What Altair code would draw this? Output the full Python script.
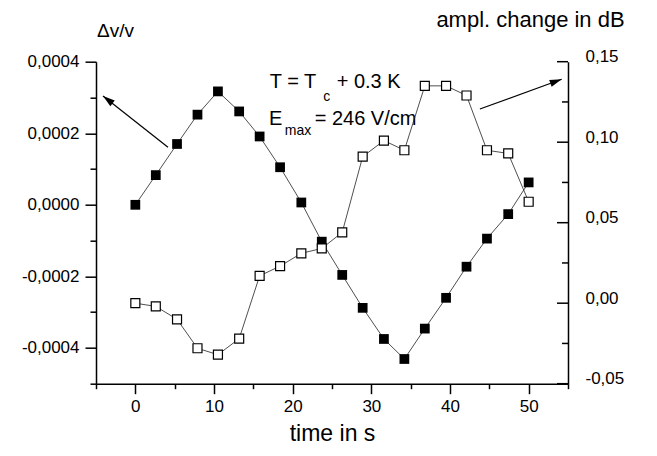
import altair as alt
import pandas as pd

# ---- data ----
time_s = [0.0, 2.6, 5.3, 7.9, 10.5, 13.2, 15.8, 18.4, 21.1, 23.7,
          26.3, 28.9, 31.6, 34.2, 36.8, 39.5, 42.1, 44.7, 47.4, 50.0]
dv_v = [0.0000, 0.000083, 0.000170, 0.000252, 0.000317, 0.000261, 0.000191,
        0.000105, 0.0000065, -0.000103, -0.000196, -0.000288, -0.000375,
        -0.000431, -0.000346, -0.000260, -0.000173, -0.0000945, -0.000026,
        0.0000626]
ampl_db = [0.000, -0.002, -0.010, -0.028, -0.032, -0.022, 0.017, 0.023,
           0.031, 0.034, 0.044, 0.091, 0.101, 0.095, 0.135, 0.135, 0.129,
           0.095, 0.093, 0.063]

# axis ticks
x_ticks = [-5, 0, 5, 10, 15, 20, 25, 30, 35, 40, 45, 50, 55]
left_ticks = [-0.0005, -0.0004, -0.0003, -0.0002, -0.0001, 0.0, 0.0001,
              0.0002, 0.0003, 0.0004]
right_major = [-0.05, 0.0, 0.05, 0.10, 0.15]
right_minor = [-0.025, 0.025, 0.075, 0.125]

# annotations (data units)
ann_main_text = ["T = T", "+ 0.3 K", "E", "= 246 V/cm"]
ann_main_x = [17.1, 25.6, 17.0, 22.8]
ann_main_y = [0.000326, 0.000326, 0.000223, 0.000223]
ann_sub_text = ["c", "max"]
ann_sub_x = [23.9, 19.0]
ann_sub_y = [0.000290, 0.000194]

# arrows: tail -> tip
arrow_l = dict(x=[4.15], y=[0.000161], x2=[-4.11], y2=[0.000304])
arrow_r = dict(x=[43.8], y=[0.1206], x2=[54.2], y2=[0.1391])

FONT = "Liberation Sans"

df_l = pd.DataFrame({"t": time_s, "v": dv_v})
df_r = pd.DataFrame({"t": time_s, "a": ampl_db})
df_main = pd.DataFrame({"t": ann_main_x, "v": ann_main_y, "txt": ann_main_text})
df_sub = pd.DataFrame({"t": ann_sub_x, "v": ann_sub_y, "txt": ann_sub_text})
df_al = pd.DataFrame(arrow_l)
df_ar = pd.DataFrame(arrow_r)
df_rt = pd.DataFrame({"a": right_major + right_minor,
                      "major": [True] * len(right_major) + [False] * len(right_minor)})

W, H = 472, 322

x_axis = alt.Axis(
    orient="bottom", values=x_ticks, grid=False,
    labelExpr="abs(round(datum.value)) % 10 == 0 ? format(datum.value, 'd') : ''",
    tickSize={"condition": {"test": "abs(round(datum.value)) % 10 == 0", "value": 10}, "value": 5},
    tickWidth=1.5, tickColor="black", domainColor="black", domainWidth=1.5,
    labelFont=FONT, labelFontSize=17, labelColor="black", labelPadding=5,
    labelFlush=False, labelOverlap=False,
    title="time in s", titleFont=FONT, titleFontSize=23, titleFontWeight="normal",
    titleColor="black", titleX=236, titleY=57, titleAlign="center",
    titleBaseline="alphabetic", titleAngle=0,
)
x_scale = alt.Scale(domain=[-5, 55], nice=False, zero=False)

left_major_test = "abs(round(datum.value * 10000)) % 2 == 0"
left_axis = alt.Axis(
    orient="left", values=left_ticks, grid=False,
    labelExpr=left_major_test + " ? (datum.value < 0 ? '-' : '') + replace(format(abs(datum.value), '.4f'), '.', ',') : ''",
    tickSize={"condition": {"test": left_major_test, "value": 11}, "value": 6},
    tickWidth=1.5, tickColor="black", domainColor="black", domainWidth=1.5,
    labelFont=FONT, labelFontSize=17, labelColor="black", labelPadding=6,
    labelFlush=False, labelOverlap=False,
    title="Δv/v", titleFont=FONT, titleFontSize=19, titleFontWeight="normal",
    titleColor="black", titleX=19, titleY=-25, titleAlign="center",
    titleBaseline="alphabetic", titleAngle=0,
)
left_scale = alt.Scale(domain=[-0.0005, 0.0004], nice=False, zero=False)

right_axis = alt.Axis(
    orient="right", values=right_major, grid=False, ticks=False,
    labelExpr="(datum.value < -0.0001 ? '-' : '') + replace(format(abs(datum.value), '.2f'), '.', ',')",
    domainColor="black", domainWidth=1.5,
    labelFont=FONT, labelFontSize=17, labelColor="black", labelPadding=17,
    labelOffset=-5, labelFlush=False, labelOverlap=False,
    title="ampl. change in dB", titleFont=FONT, titleFontSize=22,
    titleFontWeight="normal", titleColor="black", titleX=-38, titleY=-35,
    titleAlign="center", titleBaseline="alphabetic", titleAngle=0,
)
right_scale = alt.Scale(domain=[-0.05, 0.15], nice=False, zero=False)


def X(field="t"):
    return alt.X(field, type="quantitative", scale=x_scale, axis=x_axis)


def YL(field="v"):
    return alt.Y(field, type="quantitative", scale=left_scale, axis=left_axis)


def YR(field="a"):
    return alt.Y(field, type="quantitative", scale=right_scale, axis=right_axis)


ARROW = "M0,0L-0.3,1L0.3,1Z"

# ---- left (Δv/v) layers ----
line_l = alt.Chart(df_l).mark_line(color="#222222", strokeWidth=0.8).encode(x=X(), y=YL())
pts_l = alt.Chart(df_l).mark_square(size=95, color="black", opacity=1).encode(x=X(), y=YL())
arr_l = alt.Chart(df_al).mark_rule(color="black", strokeWidth=1.2).encode(
    x=X("x"), y=YL("y"), x2="x2", y2="y2")
head_l = alt.Chart(df_al).mark_point(shape=ARROW, size=576, filled=True, color="black",
                                     opacity=1, angle=307.4).encode(x=X("x2"), y=YL("y2"))
txt_main = alt.Chart(df_main).mark_text(font=FONT, fontSize=20, align="left",
                                        baseline="alphabetic", color="black").encode(
    x=X(), y=YL(), text="txt")
txt_sub = alt.Chart(df_sub).mark_text(font=FONT, fontSize=14, align="left",
                                      baseline="alphabetic", color="black").encode(
    x=X(), y=YL(), text="txt")
left = alt.layer(line_l, pts_l, arr_l, head_l, txt_main, txt_sub)

# ---- right (ampl.) layers ----
line_r = alt.Chart(df_r).mark_line(color="#222222", strokeWidth=0.8).encode(x=X(), y=YR())
pts_r = alt.Chart(df_r).mark_square(size=81, fill="white", stroke="black", strokeWidth=1.2,
                                    opacity=1).encode(x=X(), y=YR())
ticks_major = alt.Chart(df_rt).transform_filter("datum.major").mark_rule(
    color="black", strokeWidth=1.5).encode(y=YR(), x=alt.value(W), x2=alt.value(W - 11))
ticks_minor = alt.Chart(df_rt).transform_filter("!datum.major").mark_rule(
    color="black", strokeWidth=1.5).encode(y=YR(), x=alt.value(W), x2=alt.value(W - 6))
arr_r = alt.Chart(df_ar).mark_rule(color="black", strokeWidth=1.2).encode(
    x=X("x"), y=YR("y"), x2="x2", y2="y2")
head_r = alt.Chart(df_ar).mark_point(shape=ARROW, size=576, filled=True, color="black",
                                     opacity=1, angle=70).encode(x=X("x2"), y=YR("y2"))
right = alt.layer(line_r, pts_r, ticks_major, ticks_minor, arr_r, head_r)

chart = alt.layer(left, right).resolve_scale(y="independent").properties(
    width=W, height=H,
    padding={"left": 88, "top": 53.7, "right": 81, "bottom": 64},
    autosize=alt.AutoSizeParams(type="none"),
    background="white",
).configure_view(stroke=None)

chart.save("out.html", embed_options={"renderer": "svg", "actions": False})
